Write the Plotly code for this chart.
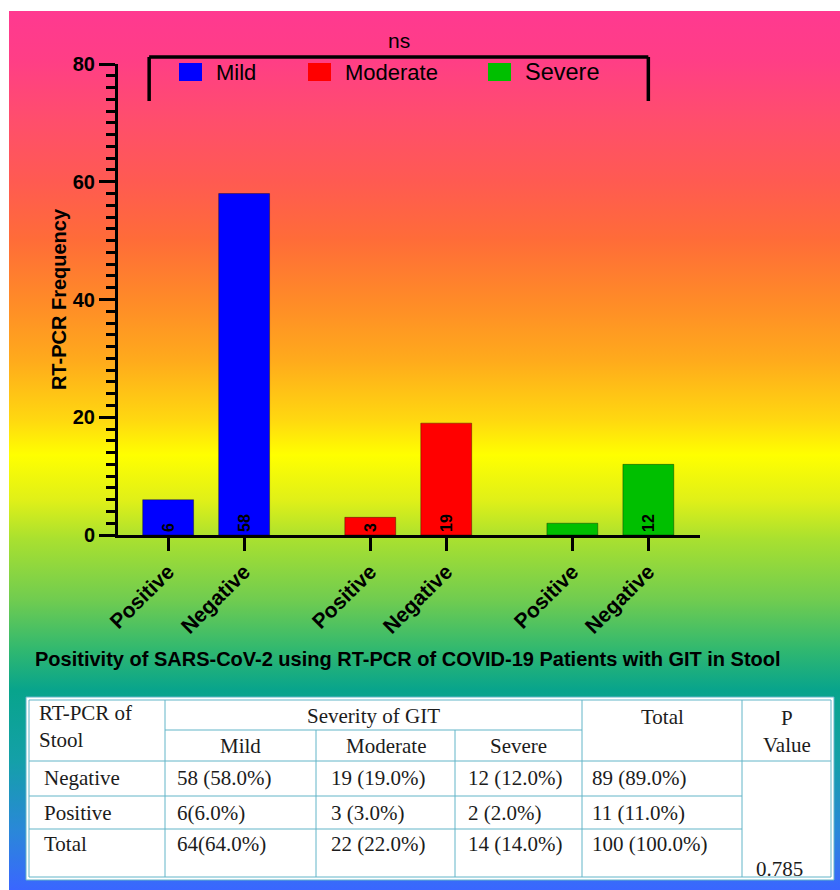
import base64
import plotly.graph_objects as go

# ---------------- data ----------------
severity_groups = ["Mild", "Moderate", "Severe"]
rtpcr_results = ["Positive", "Negative"]
positive_counts = [6, 3, 2]
negative_counts = [58, 19, 12]
group_colors = ["#0000FF", "#FF0000", "#00BF00"]
y_tick_values = [0, 20, 40, 60, 80]
significance_label = "ns"
chart_title = "Positivity of SARS-CoV-2 using RT-PCR of COVID-19 Patients with GIT in Stool"
y_axis_title = "RT-PCR Frequency"

table_header_first = "RT-PCR of<br>Stool"
table_header_group = "Severity of GIT"
table_header_sub = ["Mild", "Moderate", "Severe"]
table_header_total = "Total"
table_header_p = "P<br>Value"
table_row_labels = ["Negative", "Positive", "Total"]
table_mild = ["58 (58.0%)", "6(6.0%)", "64(64.0%)"]
table_moderate = ["19 (19.0%)", "3 (3.0%)", "22 (22.0%)"]
table_severe = ["12 (12.0%)", "2 (2.0%)", "14 (14.0%)"]
table_total = ["89 (89.0%)", "11 (11.0%)", "100 (100.0%)"]
table_p_value = "0.785"

# ---------------- geometry / style ----------------
W, H = 840, 890
ML, MR, MT, MB = 118, 140, 64, 355
PW, PH = W - ML - MR, H - MT - MB
PLOT_BOTTOM = H - MB
GROUP_STEP = 2.66
BAR_WIDTH = 0.67
X_RANGE = [-0.66, 7.0]
Y_RANGE = [0, 80]
SANS = "Arial, Liberation Sans, sans-serif"
SERIF = "Times New Roman, Liberation Serif, serif"
TABLE_LINE = "#63B5C8"


def fx(px):
    return (px - ML) / PW


def fy(py):
    return (PLOT_BOTTOM - py) / PH


def data_x_to_px(x):
    return ML + (x - X_RANGE[0]) / (X_RANGE[1] - X_RANGE[0]) * PW


# background gradient (pixel row, colour)
grad_points = [
    (11, "#FF3990"), (60, "#FF3E86"), (120, "#FF4E6C"), (180, "#FF5A52"),
    (240, "#FF6C38"), (300, "#FF8A28"), (360, "#FFAA1C"), (420, "#FFD810"),
    (455, "#FFFF00"), (500, "#E0F018"), (540, "#A8E030"), (600, "#70CC50"),
    (650, "#30B870"), (690, "#08A48C"), (760, "#14A0A8"), (830, "#2A88D8"),
    (890, "#3A66FF"),
]
BG_TOP, BG_LEFT = 11, 9
stops = "".join(
    f'<stop offset="{(y - BG_TOP) / (H - BG_TOP):.4f}" stop-color="{c}"/>'
    for y, c in grad_points
)
svg = (
    f'<svg xmlns="http://www.w3.org/2000/svg" width="20" height="{H - BG_TOP}">'
    f'<defs><linearGradient id="g" x1="0" y1="0" x2="0" y2="1">{stops}</linearGradient></defs>'
    f'<rect x="0" y="0" width="20" height="{H - BG_TOP}" fill="url(#g)"/></svg>'
)
svg_uri = "data:image/svg+xml;base64," + base64.b64encode(svg.encode()).decode()

fig = go.Figure()

positions = []
labels = []
for g, name in enumerate(severity_groups):
    xs = [g * GROUP_STEP + i for i in range(len(rtpcr_results))]
    ys = [positive_counts[g], negative_counts[g]]
    positions += xs
    labels += rtpcr_results
    fig.add_trace(go.Bar(
        x=xs, y=ys, name=name, width=BAR_WIDTH,
        marker=dict(color=group_colors[g], line=dict(color="rgba(0,0,0,0.35)", width=1)),
        text=[str(v) for v in ys], textposition="inside", insidetextanchor="start",
        textangle=-90,
        insidetextfont=dict(family=SANS, size=16, color="black", weight="bold"),
        textfont=dict(family=SANS, size=16, color="black", weight="bold"),
        showlegend=False,
    ))

shapes = []
annotations = []

# significance bracket
br_left = data_x_to_px(positions[0] - 0.25)
br_right = data_x_to_px(positions[-1])
BR_TOP, BR_BOT = 57, 101
for x0, y0, x1, y1 in [(br_left, BR_TOP, br_right, BR_TOP),
                       (br_left, BR_TOP, br_left, BR_BOT),
                       (br_right, BR_TOP, br_right, BR_BOT)]:
    shapes.append(dict(type="line", xref="paper", yref="paper",
                       x0=fx(x0), y0=fy(y0), x1=fx(x1), y1=fy(y1),
                       line=dict(color="black", width=3.5)))
annotations.append(dict(text=significance_label, xref="paper", yref="paper",
                        x=fx((br_left + br_right) / 2), y=fy(40), showarrow=False,
                        xanchor="center", yanchor="middle",
                        font=dict(family=SANS, size=21, color="black")))

# legend (swatch + text)
legend_swatch_x = [179, 308, 488]
legend_font_sizes = [22, 22, 23.5]
for name, col, sx, fs in zip(severity_groups, group_colors, legend_swatch_x, legend_font_sizes):
    shapes.append(dict(type="rect", xref="paper", yref="paper",
                       x0=fx(sx), x1=fx(sx + 23), y0=fy(63), y1=fy(81),
                       fillcolor=col, line=dict(width=0)))
    annotations.append(dict(text=name, xref="paper", yref="paper",
                            x=fx(sx + 35), y=fy(72), showarrow=False,
                            xanchor="left", yanchor="middle",
                            font=dict(family=SANS, size=fs, color="black")))

# chart title under the axis
annotations.append(dict(text=chart_title, xref="paper", yref="paper",
                        x=fx(408), y=fy(659), showarrow=False,
                        xanchor="center", yanchor="middle",
                        font=dict(family="Liberation Sans Narrow, Arial Narrow, " + SANS,
                                  size=20, color="black", weight="bold")))

# ---------------- table ----------------
T_L, T_R, T_T, T_B = 26, 834, 697, 880
I_L, I_R, I_T, I_B = 29, 831, 700, 877
cols = [I_L, 165, 316, 455, 582, 742, I_R]
rows = [I_T, 730, 761, 796, 829, I_B]

shapes.append(dict(type="rect", xref="paper", yref="paper",
                   x0=fx(T_L), x1=fx(T_R), y0=fy(T_T), y1=fy(T_B),
                   fillcolor="white", line=dict(color=TABLE_LINE, width=1)))
shapes.append(dict(type="rect", xref="paper", yref="paper",
                   x0=fx(I_L), x1=fx(I_R), y0=fy(I_T), y1=fy(I_B),
                   fillcolor="rgba(0,0,0,0)", line=dict(color=TABLE_LINE, width=1)))


def hline(y, x0, x1):
    shapes.append(dict(type="line", xref="paper", yref="paper",
                       x0=fx(x0), x1=fx(x1), y0=fy(y), y1=fy(y),
                       line=dict(color=TABLE_LINE, width=1)))


def vline(x, y0, y1):
    shapes.append(dict(type="line", xref="paper", yref="paper",
                       x0=fx(x), x1=fx(x), y0=fy(y0), y1=fy(y1),
                       line=dict(color=TABLE_LINE, width=1)))


vline(cols[1], rows[0], rows[-1])
vline(cols[2], rows[1], rows[-1])
vline(cols[3], rows[1], rows[-1])
vline(cols[4], rows[0], rows[-1])
vline(cols[5], rows[0], rows[-1])
hline(rows[1], cols[1], cols[4])
hline(rows[2], cols[0], cols[6])
hline(rows[3], cols[0], cols[5])
hline(rows[4], cols[0], cols[5])


def ttext(text, px, py, xanchor="left", yanchor="middle", size=21):
    annotations.append(dict(text=text, xref="paper", yref="paper",
                            x=fx(px), y=fy(py), showarrow=False,
                            xanchor=xanchor, yanchor=yanchor, align=xanchor if xanchor != "center" else "center",
                            font=dict(family=SERIF, size=size, color="#1c1c1c")))


ttext(table_header_first, cols[0] + 8, 726)
ttext(table_header_group, (cols[1] + cols[4]) / 2, 716, "center")
for i, sub in enumerate(table_header_sub):
    ttext(sub, (cols[1 + i] + cols[2 + i]) / 2, 746, "center")
ttext(table_header_total, (cols[4] + cols[5]) / 2, 717, "center")
ttext(table_header_p, (cols[5] + cols[6]) / 2, 731, "center")

row_text_y = [778, 813, 844]
value_cols = [table_mild, table_moderate, table_severe, table_total]
value_offsets = [10, 13, 11, 8]
for r, lab in enumerate(table_row_labels):
    ttext(lab, cols[0] + 13, row_text_y[r])
    for c, vals in enumerate(value_cols):
        ttext(vals[r], cols[1 + c] + value_offsets[c], row_text_y[r])
ttext(table_p_value, cols[5] + 12, 869)

fig.update_layout(
    width=W, height=H,
    margin=dict(l=ML, r=MR, t=MT, b=MB, pad=0),
    paper_bgcolor="white",
    plot_bgcolor="rgba(0,0,0,0)",
    barmode="overlay",
    showlegend=False,
    uniformtext=dict(minsize=16, mode="hide"),
    font=dict(family=SANS, color="black"),
    images=[dict(source=svg_uri, xref="paper", yref="paper",
                 x=fx(BG_LEFT), y=fy(BG_TOP),
                 sizex=(W - BG_LEFT) / PW, sizey=(H - BG_TOP) / PH,
                 xanchor="left", yanchor="top", sizing="stretch", layer="below")],
    shapes=shapes,
    annotations=annotations,
    xaxis=dict(
        range=X_RANGE, tickmode="array", tickvals=positions, ticktext=labels,
        tickangle=-45, ticks="outside", ticklen=13, tickwidth=3, tickcolor="black",
        showline=True, linewidth=3, linecolor="black",
        showgrid=False, zeroline=False,
        tickfont=dict(family=SANS, size=21, color="black", weight="bold"),
    ),
    yaxis=dict(
        range=Y_RANGE, tickmode="array", tickvals=y_tick_values,
        ticks="outside", ticklen=16, tickwidth=3, tickcolor="black",
        minor=dict(tickmode="linear", tick0=0, dtick=2, ticks="outside",
                   ticklen=9, tickwidth=3, tickcolor="black", showgrid=False),
        showline=True, linewidth=3, linecolor="black",
        showgrid=False, zeroline=False,
        tickfont=dict(family=SANS, size=20, color="black", weight="bold"),
        title=dict(text=y_axis_title, standoff=1,
                   font=dict(family=SANS, size=20, color="black", weight="bold")),
    ),
)

fig.write_html("out.html")
